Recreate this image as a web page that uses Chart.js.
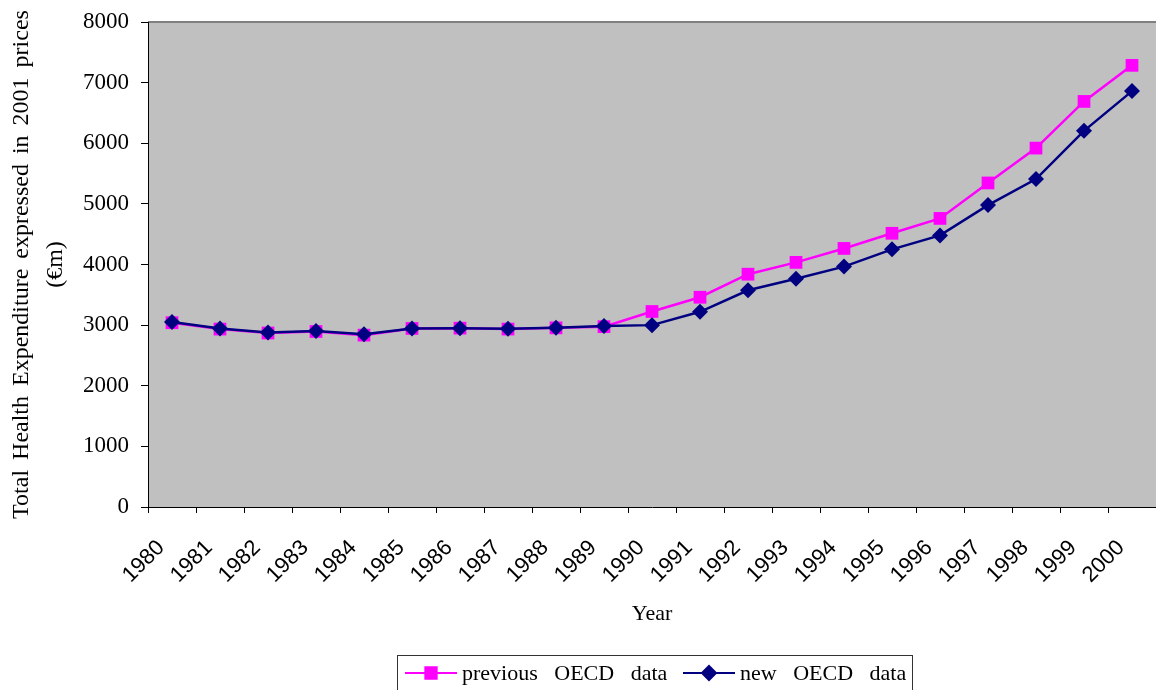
<!DOCTYPE html>
<html>
<head>
<meta charset="UTF-8" />
<title>Total Health Expenditure</title>
<script src="https://cdn.jsdelivr.net/npm/chart.js"></script>
<style>
  html, body { margin: 0; padding: 0; background: #fff; }
</style>
</head>
<body>
<canvas id="chart" width="1156" height="690"></canvas>
<script>
const years = ["1980", "1981", "1982", "1983", "1984", "1985", "1986", "1987", "1988", "1989", "1990",
  "1991", "1992", "1993", "1994", "1995", "1996", "1997", "1998", "1999", "2000"];
const previousOecd = [3040, 2935, 2870, 2895, 2835, 2945, 2950, 2935, 2955, 2975, 3225,
  3460, 3840, 4035, 4265, 4515, 4760, 5345, 5920, 6690, 7285];
const newOecd = [3050, 2945, 2880, 2905, 2850, 2945, 2950, 2940, 2955, 2985, 3000,
  3220, 3575, 3765, 3965, 4250, 4480, 4980, 5410, 6205, 6860];
const seriesNames = ["previous OECD data", "new OECD data"];
const yTitle = ["Total Health Expenditure expressed in 2001 prices", "(\u20acm)"];

const MAGENTA = "#ff00ff";
const NAVY = "#000080";
const SERIF = "'Liberation Serif', 'Times New Roman', serif";

// grey plot area + top border
const plotBg = {
  id: "plotBg",
  beforeDraw(chart) {
    const { ctx, chartArea: a } = chart;
    // excel spreads the words of titles a bit
    if ("wordSpacing" in ctx) ctx.wordSpacing = "4px";
    ctx.save();
    ctx.fillStyle = "#c0c0c0";
    ctx.fillRect(a.left, a.top, a.right - a.left, a.bottom - a.top);
    ctx.strokeStyle = "#808080";
    ctx.lineWidth = 2;
    ctx.beginPath();
    ctx.moveTo(a.left, a.top);
    ctx.lineTo(a.right, a.top);
    ctx.stroke();
    ctx.restore();
  },
};

// legend in the excel style: line through marker, boxed
const boxLegend = {
  id: "boxLegend",
  afterDraw(chart) {
    const ctx = chart.ctx;
    ctx.save();
    ctx.strokeStyle = "#333";
    ctx.lineWidth = 1;
    ctx.strokeRect(397.5, 655.5, 515, 40);

    const cy = 673;
    const items = [
      { x: 405, color: MAGENTA, style: "rect", r: 8, text: seriesNames[0] },
      { x: 683, color: NAVY, style: "rectRot", r: 7, text: seriesNames[1] },
    ];
    ctx.font = "22px " + SERIF;
    ctx.textBaseline = "middle";
    if ("wordSpacing" in ctx) ctx.wordSpacing = "11px";
    items.forEach((it) => {
      ctx.strokeStyle = it.color;
      ctx.lineWidth = 2;
      ctx.beginPath();
      ctx.moveTo(it.x, cy);
      ctx.lineTo(it.x + 52, cy);
      ctx.stroke();
      Chart.helpers.drawPoint(ctx, { pointStyle: it.style, radius: it.r, borderWidth: 1, rotation: 0 }, it.x + 26, cy);
      ctx.fillStyle = it.color;
      ctx.fill();
      ctx.fillStyle = "#000";
      ctx.fillText(it.text, it.x + 57, cy + 1);
    });
    ctx.restore();
  },
};

new Chart(document.getElementById("chart"), {
  type: "line",
  data: {
    labels: years,
    datasets: [
      {
        label: seriesNames[1],
        data: newOecd,
        borderColor: NAVY,
        backgroundColor: NAVY,
        borderWidth: 2.5,
        pointStyle: "rectRot",
        pointRadius: 8,
        pointBorderWidth: 0,
        tension: 0,
      },
      {
        label: seriesNames[0],
        data: previousOecd,
        borderColor: MAGENTA,
        backgroundColor: MAGENTA,
        borderWidth: 2.5,
        pointStyle: "rect",
        pointRadius: 9,
        pointBorderWidth: 0,
        tension: 0,
      },
    ],
  },
  options: {
    responsive: false,
    animation: false,
    layout: { autoPadding: false, padding: { top: 22, right: 0, left: 0, bottom: 63 } },
    plugins: { legend: { display: false }, tooltip: { enabled: false } },
    scales: {
      x: {
        offset: true,
        grid: { offset: true, drawOnChartArea: false, color: "#000", tickLength: 6 },
        border: { color: "#000", width: 1 },
        ticks: {
          minRotation: 45,
          maxRotation: 45,
          padding: 22,
          labelOffset: -11,
          color: "#000",
          font: { family: "'Liberation Sans', Arial, sans-serif", size: 22 },
        },
        title: {
          display: true,
          text: "Year",
          color: "#000",
          font: { family: SERIF, size: 22 },
          padding: { top: 0, bottom: 0 },
        },
        afterFit: (s) => {
          s.height = 120;
          s.paddingLeft = 0;
          s.paddingRight = 0;
        },
      },
      y: {
        min: 0,
        max: 8000,
        ticks: {
          stepSize: 1000,
          padding: 12,
          color: "#000",
          font: { family: SERIF, size: 23 },
          callback: (v) => String(v),
        },
        grid: { drawOnChartArea: false, color: "#000", tickLength: 7 },
        border: { color: "#000", width: 1 },
        title: {
          display: true,
          text: yTitle,
          color: "#000",
          font: { family: SERIF, size: 24, lineHeight: 1.4 },
          padding: { top: 5, bottom: 0 },
        },
        afterFit: (s) => {
          s.width = 148;
          s.paddingTop = 0;
          s.paddingBottom = 0;
        },
      },
    },
  },
  plugins: [plotBg, boxLegend],
});
</script>
</body>
</html>
